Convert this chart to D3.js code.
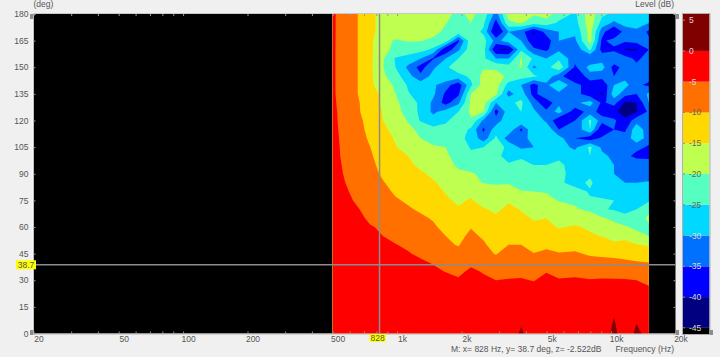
<!DOCTYPE html>
<html>
<head>
<meta charset="utf-8">
<script src="https://cdn.jsdelivr.net/npm/d3@7"></script>
<style>
  html, body { margin: 0; padding: 0; background: #f0f0f0; overflow: hidden; }
  text { font-family: "Liberation Sans", sans-serif; font-size: 8.5px; fill: #555; }
</style>
</head>
<body>
<div id="wrapper"></div>
<script>
/* global d3 */

// measured frequencies (Hz), one per grid column
const freqs = [500, 573, 655, 750, 859, 983, 1125, 1288, 1475, 1688, 1933, 2213, 2533,
  2900, 3320, 3801, 4351, 4981, 5702, 6785, 7972, 9070, 10320, 11617, 13146, 15000]

// measured angles (deg), one per grid row, top row first
const angles = [180, 175, 170, 165, 160, 155, 150, 145, 140, 135, 130, 125, 120, 115, 110, 105,
  100, 95, 90, 85, 80, 75, 70, 65, 60, 55, 50, 45, 40, 35, 30, 25, 20, 15, 10, 5, 0]

// level in dB, rows follow angles and columns follow freqs
const levels = [
  [-4.3,-7.3,-10,-14,-16.5,-17.5,-17.5,-17.5,-18,-19,-21,-19,-22,-32,-18,-18,-19.5,-18,-22,-26,-17,-24,-26,-27,-27,-29],
  [-4.3,-7.3,-10,-14,-16.5,-17.5,-17.5,-17.5,-18,-19.8,-22,-20,-24,-37,-21,-19.5,-23,-22,-26,-27,-17,-27,-31,-28,-28,-30],
  [-4.3,-7.3,-10,-14,-16.5,-17.5,-17.5,-17.8,-18.5,-21,-22,-22,-26,-41,-30,-33,-40.5,-33,-30,-29,-18,-33,-40.5,-33,-31,-36],
  [-4.3,-7.4,-10,-14,-18.5,-20.5,-19.7,-19.8,-21,-22.5,-36,-22,-23,-32,-27,-30,-39,-38,-30,-31,-18,-36,-33,-34,-33,-34],
  [-4.3,-7.5,-10,-14,-18.8,-21,-22,-23,-26,-39,-31,-22,-23,-40,-41,-26,-34,-36,-31,-34,-24,-37,-36,-40.5,-40.5,-35],
  [-4.3,-7.5,-10,-14,-19.5,-25.5,-27,-30,-35.5,-30,-25,-22,-24,-30,-30,-19.5,-26,-30,-26,-33,-35,-32,-31,-33,-36,-33],
  [-4.3,-7.5,-10,-14,-19.8,-25,-31,-37,-31,-26,-21.5,-21,-20.5,-21,-23,-19.5,-31,-27,-21,-36,-28,-28,-37,-33,-34,-33],
  [-4.3,-7.5,-10,-14,-19,-23,-28,-34,-28,-25.5,-27,-24,-18.5,-18,-21,-23,-24,-27,-33,-40.5,-32,-33,-35,-32,-34,-33],
  [-4.3,-7.5,-10,-14.3,-17,-21,-25.5,-27,-29,-33,-38,-26,-18,-18,-27,-30,-37,-31,-26,-33,-38,-39,-30,-28,-34,-36],
  [-4.3,-7.4,-10,-13,-16,-20,-24.7,-26.5,-29,-36,-36,-20,-17.5,-19,-32,-27,-37,-30,-31,-33,-38,-40.5,-27,-33,-35,-29],
  [-4.2,-7,-9.5,-12.7,-15.7,-19,-22.5,-26,-31,-37,-31,-19,-18,-30,-26,-24,-32,-39,-31,-31,-28,-36,-33,-41,-40,-30],
  [-4,-6.8,-9.5,-12,-15.3,-18,-22,-26,-31,-28,-25,-19,-20,-37,-27,-25,-29,-34,-28,-38,-33,-37,-39,-42,-40.5,-34],
  [-4,-6.6,-9,-11.5,-15,-17.5,-20.3,-25.5,-28,-26,-22,-20.5,-31,-33,-26,-25,-26,-31,-39,-35,-24,-33,-34,-39,-32,-32],
  [-3.9,-6.4,-8.5,-11.3,-14,-16.5,-19,-21,-23.5,-23,-22,-26,-36,-27,-26,-36,-25,-26,-35,-34,-25,-40,-35,-36,-26.5,-33],
  [-3.7,-6.3,-8.2,-10.7,-13,-15.5,-18,-20,-21.5,-22.5,-24,-26,-33,-24,-33,-33,-27,-27,-28,-35,-38,-34,-31,-33,-27,-32],
  [-3.6,-6.1,-7.9,-10,-12,-14.7,-17,-18.5,-19.5,-20,-22,-25.5,-25,-23,-26,-31,-30,-26,-28,-31,-24,-31,-32,-33,-33,-36],
  [-3.5,-6,-7.5,-9.6,-11.5,-13.3,-15,-16.8,-18,-19.4,-21.5,-24,-24,-23,-28,-25.5,-27,-26,-26,-28,-25,-29,-31,-33,-37,-37],
  [-3.3,-5.7,-7.3,-9.2,-11,-12.7,-14.3,-15.7,-17.5,-18.8,-20.5,-22,-23,-23,-24,-24,-25,-25,-24,-27,-26.5,-29,-30,-32,-30,-31],
  [-3.2,-5.4,-7,-8.9,-10.5,-11.8,-13,-14.5,-15.7,-18,-19.5,-19.5,-21,-22,-22.5,-23,-24,-24,-23.5,-27,-26,-30,-30,-33,-33,-33],
  [-2.9,-5,-6.4,-8.3,-9.8,-11,-12.2,-13.5,-14.6,-16,-17.5,-18.5,-20.2,-20.5,-20.3,-21.5,-23,-25,-24,-27,-24,-28.5,-29.8,-30,-30,-29.5],
  [-2.6,-4.6,-6,-7.7,-9,-10.5,-11.5,-12.5,-13.7,-15.3,-16.5,-16,-17.5,-18.5,-18.5,-19.8,-20,-20.3,-22,-23,-25.5,-26.5,-28,-28.5,-29,-28],
  [-2.3,-4.2,-5.5,-7,-8.3,-9.6,-10.5,-11.5,-12.7,-14.3,-15.7,-14.6,-16.8,-17,-15.5,-17,-18,-18.5,-20.3,-20.8,-24.5,-24.5,-25,-29,-26,-25.5],
  [-2.1,-3.7,-4.8,-6.2,-7.5,-8.8,-9.6,-10.5,-11.3,-13,-14.6,-13.5,-14.6,-15.8,-14,-15.2,-16,-16.5,-17.5,-19.5,-21,-24.5,-25.5,-27,-25,-22],
  [-1.9,-3.2,-4.2,-5.6,-6.8,-7.8,-8.5,-9.4,-10.3,-12,-13.2,-12,-14.4,-14.3,-13.3,-14.4,-15.2,-15,-15.8,-16.5,-17.3,-19.5,-21,-23,-24.5,-18.5],
  [-1.7,-2.8,-3.7,-4.8,-5.4,-6.6,-7.5,-8.3,-9.5,-11,-11.5,-10.2,-13,-13.6,-12.5,-13,-14.6,-14,-15.3,-14.6,-15.6,-16.5,-18.5,-19.5,-21,-21],
  [-1.5,-2.5,-3.3,-4.2,-5,-5.7,-6.5,-7.2,-8.6,-10,-11,-9.2,-10.5,-12.5,-11,-11.6,-13,-12.5,-13.5,-13.5,-14.5,-15.2,-17,-16.5,-18.5,-20],
  [-1.3,-2.2,-2.9,-3.6,-4.2,-4.9,-5.5,-6.2,-7.5,-9.2,-10.3,-7.7,-9.5,-11.5,-10,-10,-11.2,-10.8,-11.5,-11.3,-12,-12.8,-13.8,-13.5,-14.8,-15.6],
  [-1.1,-1.8,-2.3,-3,-3.5,-4,-4.8,-5.5,-6.5,-7.6,-8.5,-6.5,-9,-10.2,-8.5,-8.6,-9.9,-9.2,-9.8,-9.5,-10.5,-10.8,-11,-11.3,-11.8,-12.3],
  [-0.9,-1.5,-1.9,-2.5,-3,-3.5,-4,-4.6,-5.2,-6,-6.8,-5.6,-6.3,-8.5,-7.5,-7.3,-8.5,-7.7,-8.3,-8,-8.7,-8.7,-9,-9.3,-9.7,-10],
  [-0.8,-1.3,-1.7,-2.1,-2.5,-2.9,-3.3,-3.8,-4.4,-5.1,-5.6,-4.5,-5.2,-6.6,-6,-5.6,-6.8,-5.1,-6.2,-6,-6.8,-6.7,-6.8,-7,-7.5,-7.6],
  [-0.7,-1.1,-1.4,-1.8,-2.1,-2.4,-2.8,-3.1,-3.5,-4.1,-4.7,-4,-4.5,-5,-4.8,-4.8,-5.1,-4.4,-4.7,-4.5,-4.8,-4.6,-4.6,-4.7,-5,-5.8],
  [-0.6,-0.9,-1.2,-1.5,-1.8,-2,-2.3,-2.6,-2.9,-3.4,-3.9,-3.3,-3.7,-4.1,-3.9,-3.9,-4.1,-3.6,-3.8,-3.7,-3.8,-3.7,-3.6,-3.7,-3.9,-4.5],
  [-0.5,-0.7,-1,-1.2,-1.4,-1.6,-1.9,-2.1,-2.3,-2.7,-3.1,-2.6,-2.9,-3.1,-3,-3,-3.1,-2.8,-2.9,-2.8,-2.9,-2.8,-2.8,-2.8,-2.9,-3.4],
  [-0.4,-0.5,-0.7,-0.9,-1,-1.2,-1.4,-1.6,-1.7,-2,-2.3,-2,-2.1,-2.2,-2.2,-2.2,-2.2,-2.1,-2.1,-2,-2,-1.9,-1.6,-1.9,-1.9,-2],
  [-0.3,-0.4,-0.5,-0.6,-0.7,-0.8,-1,-1.1,-1.2,-1.4,-1.5,-1.3,-1.4,-1.5,-1.5,-1.4,-1.4,-1.4,-1.4,-1.3,-1.3,-1.2,-0.02,-1.2,-0.8,-0.9],
  [-0.2,-0.3,-0.3,-0.4,-0.4,-0.5,-0.6,-0.6,-0.7,-0.8,-0.8,-0.7,-0.8,-0.8,-0.8,-0.05,-0.8,-0.8,-0.8,-0.8,-0.8,-0.8,0.15,-0.8,0.03,-0.7],
  [-0.1,-0.1,-0.2,-0.2,-0.2,-0.2,-0.3,-0.3,-0.3,-0.4,-0.4,-0.4,-0.4,-0.4,-0.6,0.15,-0.6,-0.6,-0.6,-0.6,-0.6,-0.6,0.25,-0.6,0.2,-0.3]
]

// colour bands, lower edge in dB (anything under -45 stays black)
const bandEdges = [-45, -40, -35, -30, -25, -20, -15, -10, -5, 0]
const bandColors = ["#000080", "#0000ff", "#0070ff", "#00d8ff", "#55ffbf",
  "#bfff50", "#ffd800", "#ff7000", "#ff0000", "#800000"]
const barTicks = [5, 0, -5, -10, -15, -20, -25, -30, -35, -40, -45]

// tick labels and marker
const angleTicks = [0, 15, 30, 45, 60, 75, 90, 105, 120, 135, 150, 165, 180]
const freqLabels = [20, 50, 100, 200, 500, 1000, 2000, 5000, 10000, 20000]
const freqMinor = [20, 30, 40, 50, 60, 70, 80, 90, 100, 200, 300, 400, 500, 600, 700, 800, 900,
  1000, 2000, 3000, 4000, 5000, 6000, 7000, 8000, 9000, 10000, 20000]
const markerFreq = 828
const markerAngle = 38.7

function drawChart() {

  // create chart dimensions
  const dimensions = {
    width: 720,
    height: 357,
    left: 33.5,
    right: 675.5,
    top: 14,
    bottom: 333.5,
    barLeft: 683,
    barRight: 709.5,
  }

  const wrapper = d3.select("#wrapper")
    .append("svg")
      .attr("width", dimensions.width)
      .attr("height", dimensions.height)
      .style("display", "block")

  // create scales
  const xScale = d3.scaleLog()
    .domain([20, 20000])
    .range([dimensions.left, dimensions.right])

  const yScale = d3.scaleLinear()
    .domain([0, 180])
    .range([dimensions.bottom, dimensions.top])

  const barScale = d3.scaleLinear()
    .domain([-46, 6])
    .range([334, dimensions.top])

  // grid index -> pixel
  const columnScale = d3.scaleLinear()
    .domain(d3.range(freqs.length))
    .range(freqs.map(d => xScale(d)))

  const rowScale = d3.scaleLinear()
    .domain(d3.range(angles.length))
    .range(angles.map(d => yScale(d)))

  const gridPath = d3.geoPath(d3.geoTransform({
    point(x, y) {
      this.stream.point(columnScale(x - 0.5), rowScale(y - 0.5))
    }
  }))

  // plot background
  wrapper.append("rect")
    .attr("x", dimensions.left)
    .attr("y", dimensions.top)
    .attr("width", dimensions.right - dimensions.left)
    .attr("height", dimensions.bottom - dimensions.top)
    .attr("fill", "#000")

  wrapper.append("clipPath")
    .attr("id", "data-clip")
    .append("rect")
      .attr("x", xScale(freqs[0]))
      .attr("y", dimensions.top)
      .attr("width", xScale(freqs[freqs.length - 1]) - xScale(freqs[0]))
      .attr("height", dimensions.bottom - dimensions.top)

  // draw data
  const contours = d3.contours()
    .size([freqs.length, angles.length])
    .thresholds(bandEdges)(levels.flat())

  wrapper.append("g")
    .attr("clip-path", "url(#data-clip)")
    .selectAll("path")
    .data(contours)
    .join("path")
      .attr("d", gridPath)
      .attr("fill", (d, i) => bandColors[i])

  // plot frame
  wrapper.append("path")
    .attr("d", `M${dimensions.left - 0.5},${dimensions.top - 0.5}H${dimensions.right + 0.5}`)
    .attr("stroke", "#c8c8c8")
  wrapper.append("path")
    .attr("d", `M${dimensions.left - 0.5},${dimensions.bottom + 0.5}H${dimensions.right + 0.5}`)
    .attr("stroke", "#b8b8b8")
  wrapper.append("path")
    .attr("d", `M${dimensions.left - 0.5},${dimensions.top}V${dimensions.bottom}`)
    .attr("stroke", "#fff")

  // axes
  const styleAxis = g => {
    g.select(".domain").remove()
    g.selectAll("line").attr("stroke", "#999")
  }

  wrapper.append("g")
    .attr("transform", `translate(0,${dimensions.top})`)
    .call(d3.axisTop(xScale).tickValues(freqMinor).tickSize(-2).tickFormat(""))
    .call(styleAxis)

  wrapper.append("g")
    .attr("transform", `translate(0,${dimensions.bottom})`)
    .call(d3.axisBottom(xScale).tickValues(freqMinor).tickSize(-2).tickFormat(""))
    .call(styleAxis)

  wrapper.append("g")
    .attr("transform", `translate(${dimensions.right},0)`)
    .call(d3.axisRight(yScale).tickValues(angleTicks).tickSize(-2).tickFormat(""))
    .call(styleAxis)

  const yAxis = wrapper.append("g")
    .attr("transform", `translate(${dimensions.left},0)`)
    .call(d3.axisLeft(yScale).tickValues(angleTicks).tickSize(-2).tickPadding(5))
    .call(styleAxis)
  yAxis.selectAll("text")
    .style("font-size", "8.5px")

  const xAxis = wrapper.append("g")
    .attr("transform", `translate(5,${dimensions.bottom})`)
    .call(d3.axisBottom(xScale)
      .tickValues(freqLabels)
      .tickSize(0)
      .tickPadding(2.5)
      .tickFormat(d => d >= 1000 ? `${d / 1000}k` : d))
    .call(styleAxis)
  xAxis.selectAll("text")
    .style("font-size", "8.5px")

  // axis titles and readout
  wrapper.append("text").attr("x", dimensions.left).attr("y", 7).text("(deg)")
  wrapper.append("text").attr("x", 674).attr("y", 7).attr("text-anchor", "end")
    .text("Level (dB)")
  wrapper.append("text").attr("x", 674).attr("y", 352).attr("text-anchor", "end")
    .text("Frequency (Hz)")
  wrapper.append("text").attr("x", 451).attr("y", 352)
    .text(`M: x= ${markerFreq} Hz, y= ${markerAngle} deg, z= -2.522dB`)

  // marker cross
  wrapper.append("line")
    .attr("x1", xScale(markerFreq))
    .attr("x2", xScale(markerFreq))
    .attr("y1", dimensions.top)
    .attr("y2", dimensions.bottom)
    .attr("stroke", "#8c8c8c")
    .attr("stroke-width", 1.5)
  wrapper.append("line")
    .attr("x1", dimensions.left)
    .attr("x2", dimensions.right)
    .attr("y1", yScale(markerAngle))
    .attr("y2", yScale(markerAngle))
    .attr("stroke", "#8c8c8c")
    .attr("stroke-width", 1.5)

  wrapper.append("rect")
    .attr("x", 16)
    .attr("y", yScale(markerAngle) - 4.5)
    .attr("width", 20)
    .attr("height", 9)
    .attr("fill", "#ffff00")
  wrapper.append("text")
    .attr("x", 26)
    .attr("y", yScale(markerAngle) + 3)
    .attr("text-anchor", "middle")
    .text(markerAngle)

  wrapper.append("rect")
    .attr("x", xScale(markerFreq) - 10)
    .attr("y", dimensions.bottom + 0.5)
    .attr("width", 16)
    .attr("height", 8)
    .attr("fill", "#ffff00")
  wrapper.append("text")
    .attr("x", xScale(markerFreq) - 2)
    .attr("y", dimensions.bottom + 7.5)
    .attr("text-anchor", "middle")
    .text(markerFreq)

  // colour bar
  wrapper.selectAll(".band")
    .data(bandEdges)
    .join("rect")
      .attr("class", "band")
      .attr("x", dimensions.barLeft)
      .attr("width", dimensions.barRight - dimensions.barLeft)
      .attr("y", (d, i) => barScale(i === bandEdges.length - 1 ? 6 : bandEdges[i + 1]))
      .attr("height", (d, i) => barScale(d) - barScale(i === bandEdges.length - 1 ? 6 : bandEdges[i + 1]))
      .attr("fill", (d, i) => bandColors[i])

  wrapper.append("rect")
    .attr("x", dimensions.barLeft)
    .attr("width", dimensions.barRight - dimensions.barLeft)
    .attr("y", barScale(-45))
    .attr("height", barScale(-46) - barScale(-45))
    .attr("fill", "#000")

  wrapper.append("rect")
    .attr("x", dimensions.barLeft - 0.5)
    .attr("y", dimensions.top - 0.5)
    .attr("width", dimensions.barRight - dimensions.barLeft + 1)
    .attr("height", barScale(-46) - dimensions.top + 1)
    .attr("fill", "none")
    .attr("stroke", "#b0b0b0")

  const barAxis = wrapper.selectAll(".bar-tick")
    .data(barTicks)
    .join("g")
      .attr("class", "bar-tick")
      .attr("transform", d => `translate(${dimensions.barLeft},${barScale(d)})`)
  barAxis.append("line")
    .attr("x2", 2)
    .attr("stroke", "#888")
  barAxis.append("text")
    .attr("x", 6)
    .attr("y", 3)
    .text(d => d)
    .style("fill", d => (d >= -5 || d <= -30) ? "#d8d8d8" : "#6a6a50")

  // small handle marks at the frame corners
  const handles = [[30, 14], [30, 330], [676, 14], [676, 330], [710, 330]]
  wrapper.selectAll(".handle")
    .data(handles)
    .join("rect")
      .attr("class", "handle")
      .attr("x", d => d[0])
      .attr("y", d => d[1])
      .attr("width", 3)
      .attr("height", 5)
      .attr("fill", "#8c8c8c")
}

drawChart()
</script>
</body>
</html>
